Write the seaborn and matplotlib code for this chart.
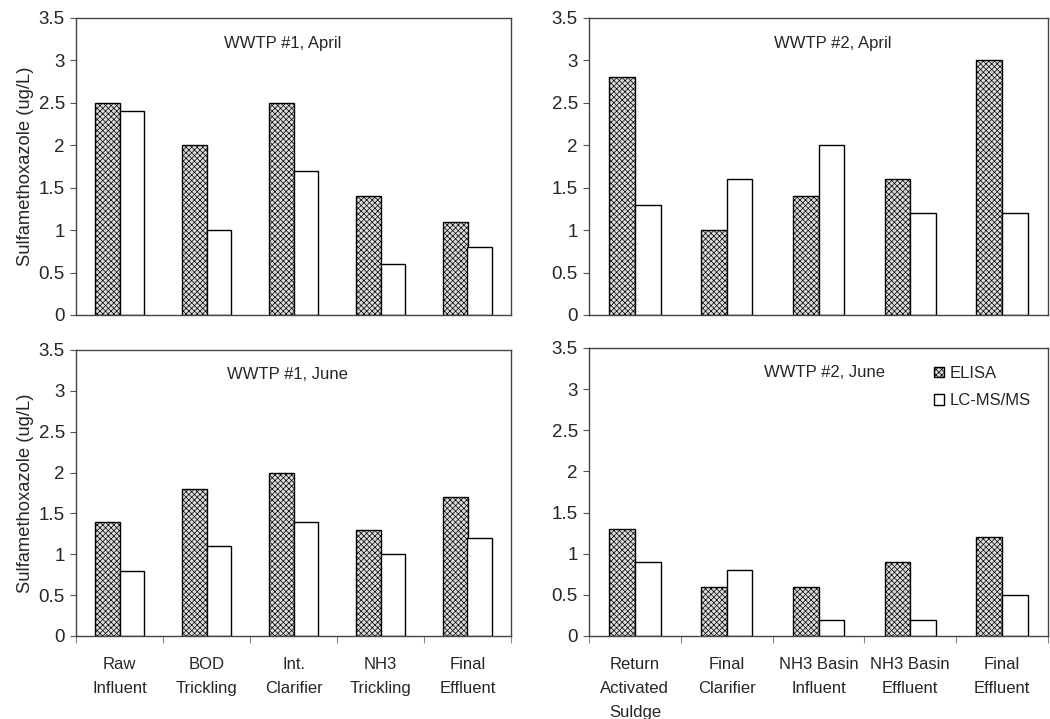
import matplotlib
matplotlib.use('Agg')
import matplotlib.pyplot as plt
import numpy as np
import pandas as pd
import seaborn as sns

sns.set_style('white')
plt.rcParams['font.family'] = ['Liberation Sans', 'DejaVu Sans']
plt.rcParams['hatch.linewidth'] = 0.5

# Data
methods = ['ELISA', 'LC-MS/MS']

sites_1 = ['Raw\nInfluent', 'BOD\nTrickling', 'Int.\nClarifier', 'NH3\nTrickling', 'Final\nEffluent']
sites_2 = ['Return\nActivated\nSuldge', 'Final\nClarifier', 'NH3 Basin\nInfluent',
           'NH3 Basin\nEffluent', 'Final\nEffluent']

titles = ['WWTP #1, April', 'WWTP #2, April', 'WWTP #1, June', 'WWTP #2, June']

elisa_1_apr = [2.5, 2.0, 2.5, 1.4, 1.1]
lcms_1_apr = [2.4, 1.0, 1.7, 0.6, 0.8]
elisa_2_apr = [2.8, 1.0, 1.4, 1.6, 3.0]
lcms_2_apr = [1.3, 1.6, 2.0, 1.2, 1.2]
elisa_1_jun = [1.4, 1.8, 2.0, 1.3, 1.7]
lcms_1_jun = [0.8, 1.1, 1.4, 1.0, 1.2]
elisa_2_jun = [1.3, 0.6, 0.6, 0.9, 1.2]
lcms_2_jun = [0.9, 0.8, 0.2, 0.2, 0.5]


def make_df(sites, elisa, lcms):
    return pd.DataFrame({
        'site': sites * 2,
        'method': [methods[0]] * len(sites) + [methods[1]] * len(sites),
        'value': elisa + lcms,
    })


panels = [
    (make_df(sites_1, elisa_1_apr, lcms_1_apr), titles[0]),
    (make_df(sites_2, elisa_2_apr, lcms_2_apr), titles[1]),
    (make_df(sites_1, elisa_1_jun, lcms_1_jun), titles[2]),
    (make_df(sites_2, elisa_2_jun, lcms_2_jun), titles[3]),
]

W, H = 1050, 719
fig = plt.figure(figsize=(W / 100, H / 100), dpi=100)

# axes boxes in pixels: left, top, right, bottom
boxes = [(76, 18, 511, 315), (589, 18, 1048, 315),
         (76, 350, 511, 636), (589, 348, 1048, 636)]
title_x = [0.476, 0.53, 0.485, 0.514]

for i, ((df, title), (l, t, r, b)) in enumerate(zip(panels, boxes)):
    ax = fig.add_axes([l / W, (H - b) / H, (r - l) / W, (b - t) / H])
    sns.barplot(ax=ax, data=df, x='site', y='value', hue='method',
                palette=['#dcdcdc', 'white'], edgecolor='black', linewidth=1,
                width=0.56, gap=0, legend=(i == 3))
    for bar in ax.containers[0]:
        bar.set_hatch('xxxxxx')

    ax.set_ylim(0, 3.5)
    ax.set_xlim(-0.5, 4.5)
    ax.set_yticks(np.arange(0, 3.51, 0.5))
    ax.set_yticklabels(['0', '0.5', '1', '1.5', '2', '2.5', '3', '3.5'])
    ax.tick_params(axis='y', left=True, length=4, width=0.8, color='#555555',
                   labelsize=13.5, pad=4)
    ax.set_xlabel('')
    ax.set_ylabel('Sulfamethoxazole (ug/L)' if i % 2 == 0 else '', size=13.2, labelpad=3)

    if i < 2:
        ax.set_xticks([])
    else:
        ax.set_xticks(range(5))
        ax.set_xticklabels(df['site'][:5], linespacing=1.75)
        ax.set_xticks(np.arange(-0.5, 5, 1), minor=True)
        ax.tick_params(axis='x', which='major', length=0, labelsize=12, pad=15)
        ax.tick_params(axis='x', which='minor', bottom=True, length=5, width=0.8,
                       color='#888888')

    for s in ax.spines.values():
        s.set_color('#444444')
        s.set_linewidth(1)

    ax.text(title_x[i], 0.915, title, transform=ax.transAxes, ha='center',
            va='center', fontsize=12)

    if i == 3:
        leg = ax.legend(loc='upper left', bbox_to_anchor=(0.72, 0.99), frameon=False,
                        fontsize=12, handlelength=0.6, handleheight=0.6,
                        handletextpad=0.3, labelspacing=0.75)
        leg.legend_handles[0].set_hatch('xxxxxx')

fig.savefig('out.png', dpi=100)
